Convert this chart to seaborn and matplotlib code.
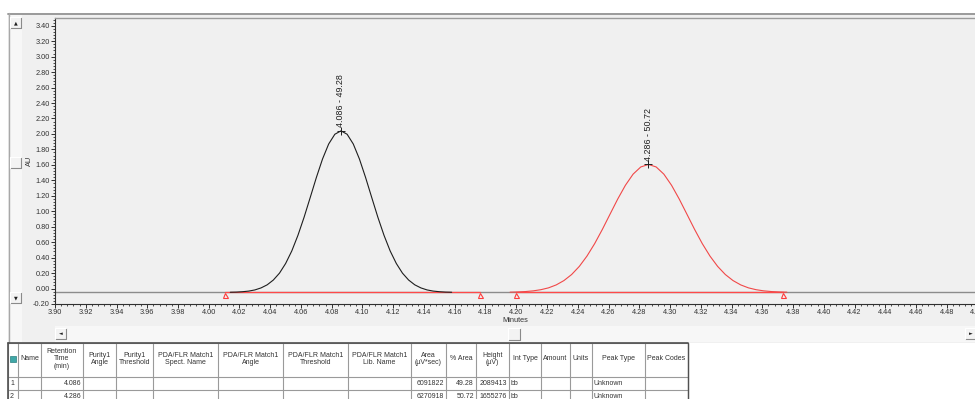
import matplotlib
matplotlib.use("Agg")
import matplotlib.pyplot as plt
import seaborn as sns
import numpy as np
import pandas as pd
from matplotlib.patches import Rectangle
from matplotlib.ticker import MultipleLocator, FormatStrFormatter

peak1_time = [4.014, 4.018, 4.022, 4.026, 4.030, 4.034, 4.038, 4.042, 4.046, 4.050,
              4.054, 4.058, 4.062, 4.066, 4.070, 4.074, 4.078, 4.082, 4.086, 4.090,
              4.094, 4.098, 4.102, 4.106, 4.110, 4.114, 4.118, 4.122, 4.126, 4.130,
              4.134, 4.138, 4.142, 4.146, 4.150, 4.154, 4.158]
peak1_au = [-0.048, -0.046, -0.041, -0.033, -0.018, 0.008, 0.048, 0.110, 0.199, 0.324,
            0.486, 0.688, 0.922, 1.178, 1.437, 1.676, 1.870, 1.996, 2.040, 1.996,
            1.870, 1.676, 1.437, 1.178, 0.922, 0.688, 0.486, 0.324, 0.199, 0.110,
            0.048, 0.008, -0.018, -0.033, -0.041, -0.046, -0.048]

peak2_time = [4.196, 4.201, 4.206, 4.211, 4.216, 4.221, 4.226, 4.231, 4.236, 4.241,
              4.246, 4.251, 4.256, 4.261, 4.266, 4.271, 4.276, 4.281, 4.286, 4.291,
              4.296, 4.301, 4.306, 4.311, 4.316, 4.321, 4.326, 4.331, 4.336, 4.341,
              4.346, 4.351, 4.356, 4.361, 4.366, 4.371, 4.376]
peak2_au = [-0.047, -0.044, -0.039, -0.030, -0.015, 0.009, 0.047, 0.103, 0.181, 0.286,
            0.420, 0.581, 0.765, 0.962, 1.158, 1.336, 1.480, 1.573, 1.605, 1.573,
            1.480, 1.336, 1.158, 0.962, 0.765, 0.581, 0.420, 0.286, 0.181, 0.103,
            0.047, 0.009, -0.015, -0.030, -0.039, -0.044, -0.047]

baseline_au = -0.05
trace_range = [3.90, 4.50]
peak_starts = [4.0106, 4.2000]
peak_ends = [4.1765, 4.3735]
peak_apex_au = [2.040, 1.605]

peak_ids = ["1", "2"]
retention_times = [4.086, 4.286]
areas = [6091822, 6270918]
pct_areas = [49.28, 50.72]
heights = [2089413, 1655276]
int_types = ["bb", "bb"]
peak_types = ["Unknown", "Unknown"]

table_headers = ["", "Name", "Retention\nTime\n(min)", "Purity1\nAngle", "Purity1\nThreshold",
                 "PDA/FLR Match1\nSpect. Name", "PDA/FLR Match1\nAngle",
                 "PDA/FLR Match1\nThreshold", "PDA/FLR Match1\nLib. Name",
                 "Area\n(µV*sec)", "% Area", "Height\n(µV)", "Int Type", "Amount",
                 "Units", "Peak Type", "Peak Codes"]

# ---------------- style ----------------
sns.set_style("ticks")
plt.rcParams["font.family"] = ["Liberation Sans", "DejaVu Sans"]
TXT = "#333333"
PANEL = "#f0f0f0"

fig = plt.figure(figsize=(9.75, 3.99), dpi=100)
fig.patch.set_facecolor("white")

# background/pixel axes
bg = fig.add_axes([0, 0, 1, 1], zorder=0)
bg.set_xlim(0, 975)
bg.set_ylim(399, 0)
bg.axis("off")

# panel
bg.add_patch(Rectangle((8, 13), 975, 330, facecolor=PANEL, edgecolor="none"))
bg.plot([8, 975], [13.5, 13.5], color="#9a9a9a", lw=1.4)
bg.plot([8.5, 8.5], [13, 343], color="#a8a8a8", lw=1.0)
# left scroll strip
bg.add_patch(Rectangle((9, 14), 13, 328, facecolor="#f7f7f7", edgecolor="none"))


def button(x0, y0, w, h, glyph=None):
    bg.add_patch(Rectangle((x0, y0), w, h, facecolor="#f3f3f3", edgecolor="none"))
    bg.plot([x0, x0 + w, x0 + w], [y0 + h, y0 + h, y0], color="#8a8a8a", lw=0.8)
    bg.plot([x0, x0, x0 + w], [y0 + h, y0, y0], color="#ffffff", lw=0.8)
    if glyph:
        bg.text(x0 + w / 2, y0 + h / 2, glyph, fontsize=3.5, ha="center", va="center",
                color="#202020", family="DejaVu Sans")


button(10, 17, 11, 11, "▲")
button(10, 157, 11, 11)
button(10, 292, 11, 11, "▼")
bg.text(29, 161, "AU", rotation=90, fontsize=5.3, ha="center", va="center", color=TXT)

# horizontal scrollbar
bg.add_patch(Rectangle((55, 326), 920, 16, facecolor="#f7f7f7", edgecolor="none"))
button(55, 328, 11, 11, "◄")
button(508, 328, 12, 12)
button(965, 328, 11, 11, "►")
bg.text(515, 321, "Minutes", fontsize=5.3, ha="center", va="center", color=TXT)

# ---------------- results table ----------------
col_edges = [8, 18, 41, 83, 116, 153, 218, 283, 348, 411, 446, 476, 509, 541, 570, 592, 645, 688]
row_edges = [343, 377, 390, 403]
bg.add_patch(Rectangle((8, 343), 680, 60, facecolor="white", edgecolor="none"))
for xe in col_edges:
    bg.plot([xe, xe], [343, 403], color="#9a9a9a", lw=0.8)
for ye in row_edges:
    bg.plot([8, 688], [ye, ye], color="#9a9a9a", lw=0.8)
bg.plot([8, 688], [343, 343], color="#505050", lw=1.2)
bg.plot([8, 8], [343, 403], color="#505050", lw=1.2)
bg.plot([688, 688], [343, 403], color="#505050", lw=1.0)
bg.add_patch(Rectangle((10, 356), 6, 6, facecolor="#3fa7a7", edgecolor="#2a7f7f", lw=0.5))

for i, head in enumerate(table_headers):
    if not head:
        continue
    cx = (col_edges[i] + col_edges[i + 1]) / 2
    bg.text(cx, 359, head, fontsize=5.0, ha="center", va="center", color=TXT,
            linespacing=1.15, multialignment="center")

rows = []
for k in range(len(peak_ids)):
    rows.append([peak_ids[k], "", f"{retention_times[k]:.3f}", "", "", "", "", "", "",
                 f"{areas[k]}", f"{pct_areas[k]:.2f}", f"{heights[k]}", int_types[k],
                 "", "", peak_types[k], ""])
right_cols = {2, 9, 10, 11}
for r, row in enumerate(rows):
    yc = (row_edges[r + 1] + row_edges[r + 2]) / 2
    for i, val in enumerate(row):
        if not val:
            continue
        if i in right_cols:
            bg.text(col_edges[i + 1] - 2, yc, val, fontsize=5.0, ha="right", va="center", color=TXT)
        else:
            bg.text(col_edges[i] + 2, yc, val, fontsize=5.0, ha="left", va="center", color=TXT)

# ---------------- chromatogram axes ----------------
ax = fig.add_axes([55 / 975, (399 - 304) / 399, 922.5 / 975, 286 / 399], zorder=2)
ax.set_facecolor("none")
ax.set_xlim(3.90, 4.50)
ax.set_ylim(-0.20, 3.50)

# gray trace baseline
ax.plot(trace_range, [baseline_au, baseline_au], color="#8c8c8c", lw=1.0, zorder=1)
# red integration baselines
for s, e in zip(peak_starts, peak_ends):
    ax.plot([s, e], [baseline_au, baseline_au], color="#ff4a4a", lw=0.9, zorder=2)

df1 = pd.DataFrame({"t": peak1_time, "au": peak1_au})
df2 = pd.DataFrame({"t": peak2_time, "au": peak2_au})
sns.lineplot(data=df1, x="t", y="au", ax=ax, color="#1e1e1e", lw=0.8, zorder=3, estimator=None)
sns.lineplot(data=df2, x="t", y="au", ax=ax, color="#f04848", lw=0.8, zorder=3, estimator=None)

# integration markers
marks = peak_starts + peak_ends
ax.plot(marks, [-0.084] * len(marks), linestyle="none", marker="^", markersize=3.6,
        markerfacecolor="none", markeredgecolor="#ff3b3b", markeredgewidth=0.8, zorder=4)

# apex markers and labels
for rt, apex, pa in zip(retention_times, peak_apex_au, pct_areas):
    ax.plot([rt], [apex], marker="+", color="#202020", markersize=6, mew=0.7, zorder=5)
    ax.annotate(f"{rt:.3f} - {pa:.2f}", xy=(rt, apex), xytext=(0, 2.5),
                textcoords="offset points", rotation=90, ha="center", va="bottom",
                fontsize=6.4, color="#202020")

ax.set_xlabel("")
ax.set_ylabel("")
ax.xaxis.set_major_locator(MultipleLocator(0.02))
ax.xaxis.set_minor_locator(MultipleLocator(0.004))
ax.yaxis.set_major_locator(MultipleLocator(0.20))
ax.yaxis.set_minor_locator(MultipleLocator(0.04))
ax.xaxis.set_major_formatter(FormatStrFormatter("%.2f"))
ax.yaxis.set_major_formatter(FormatStrFormatter("%.2f"))
ax.tick_params(axis="both", which="major", labelsize=5.3, labelcolor=TXT, color="#303030",
               length=2.6, width=0.7, pad=1.2, direction="out")
ax.tick_params(axis="both", which="minor", color="#303030", length=1.5, width=0.6, direction="out")
ax.spines["right"].set_visible(False)
ax.spines["top"].set_color("#9a9a9a")
ax.spines["top"].set_linewidth(1.0)
ax.spines["left"].set_color("#303030")
ax.spines["left"].set_linewidth(0.8)
ax.spines["bottom"].set_color("#303030")
ax.spines["bottom"].set_linewidth(0.8)

fig.savefig("out.png", dpi=100)
